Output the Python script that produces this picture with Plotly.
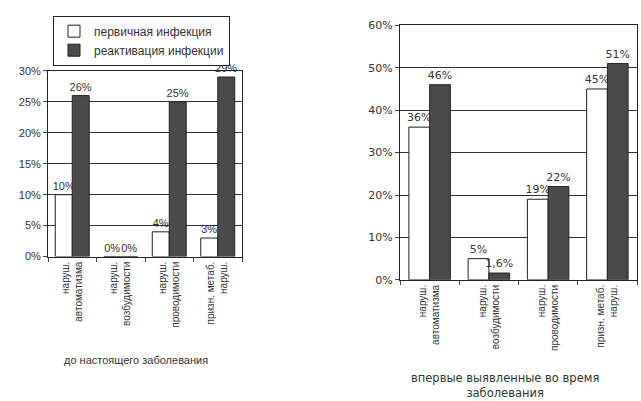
import plotly.graph_objects as go

categories = ["наруш.<br>автоматизма", "наруш.<br>возбудимости", "наруш.<br>проводимости", "призн. метаб.<br>наруш."]
left_primary = [10, 0, 4, 3]
left_react = [26, 0, 25, 29]
right_primary = [36, 5, 19, 45]
right_react = [46, 1.6, 22, 51]
series_names = ["первичная инфекция", "реактивация инфекции"]
left_title = "до настоящего заболевания"
right_title = "впервые выявленные во время<br>заболевания"

def fmt(v):
    s = f"{v:g}".replace(".", ",")
    return s + "%"

FONT = "Liberation Sans, Arial, sans-serif"
WIDE = "DejaVu Sans, Verdana, sans-serif"
WHITE = "#ffffff"
DARK = "#4a4a4a"
LINE = "#222222"
TXT = "#333333"

def bar(vals, name, color, xa, ya, size, legend, fam):
    return go.Bar(x=categories, y=vals, name=name, text=[fmt(v) for v in vals],
                  textposition="outside", constraintext="none", cliponaxis=False,
                  marker=dict(color=color, line=dict(color=LINE, width=1)),
                  xaxis=xa, yaxis=ya, showlegend=legend,
                  textfont=dict(size=size, color=TXT, family=fam))

fig = go.Figure()
fig.add_trace(bar(left_primary, series_names[0], WHITE, "x", "y", 11, True, FONT))
fig.add_trace(bar(left_react, series_names[1], DARK, "x", "y", 11, True, FONT))
fig.add_trace(bar(right_primary, series_names[0], WHITE, "x2", "y2", 11, False, WIDE))
fig.add_trace(bar(right_react, series_names[1], DARK, "x2", "y2", 11, False, WIDE))

axis_common = dict(showline=True, linecolor=LINE, linewidth=1, mirror=True)
fig.update_layout(
    width=641, height=401, margin=dict(l=0, r=0, t=0, b=0),
    paper_bgcolor="white", plot_bgcolor="white",
    font=dict(family=FONT, color=TXT),
    barmode="group", bargap=0.3, bargroupgap=0,
    xaxis=dict(domain=[48/641, 242/641], anchor="y", tickangle=-90, tickfont=dict(size=10, color=TXT),
               ticks="outside", ticklen=4, tickson="boundaries", **axis_common),
    yaxis=dict(domain=[(401-259)/401, (401-67)/401], anchor="x", range=[0, 30], dtick=5,
               ticksuffix="%", tickfont=dict(size=11, color=TXT), ticks="outside", ticklen=4,
               gridcolor="#333", gridwidth=1, zeroline=False, **axis_common),
    xaxis2=dict(domain=[400/641, 637/641], anchor="y2", tickangle=-90,
                tickfont=dict(size=10, color=TXT, family=FONT),
                ticks="outside", ticklen=4, tickson="boundaries", **axis_common),
    yaxis2=dict(domain=[(401-283)/401, (401-20)/401], anchor="x2", range=[0, 60], dtick=10,
                ticksuffix="%", tickfont=dict(size=11, color=TXT, family=WIDE), ticks="outside", ticklen=4,
                gridcolor="#333", gridwidth=1, zeroline=False, **axis_common),
    legend=dict(x=53/641, y=1-10/401, xanchor="left", yanchor="top", bordercolor=LINE, borderwidth=1,
                bgcolor="white", font=dict(size=12, color=TXT), tracegroupgap=0, itemwidth=30),
    annotations=[
        dict(text=left_title, x=136/641, y=1-366/401, xref="paper", yref="paper", showarrow=False,
             xanchor="center", yanchor="middle", font=dict(size=11, color=TXT)),
        dict(text=right_title, x=505/641, y=1-392/401, xref="paper", yref="paper", showarrow=False,
             xanchor="center", yanchor="middle", font=dict(size=11.5, color=TXT, family=WIDE)),
    ],
)
fig.write_html("out.html")
